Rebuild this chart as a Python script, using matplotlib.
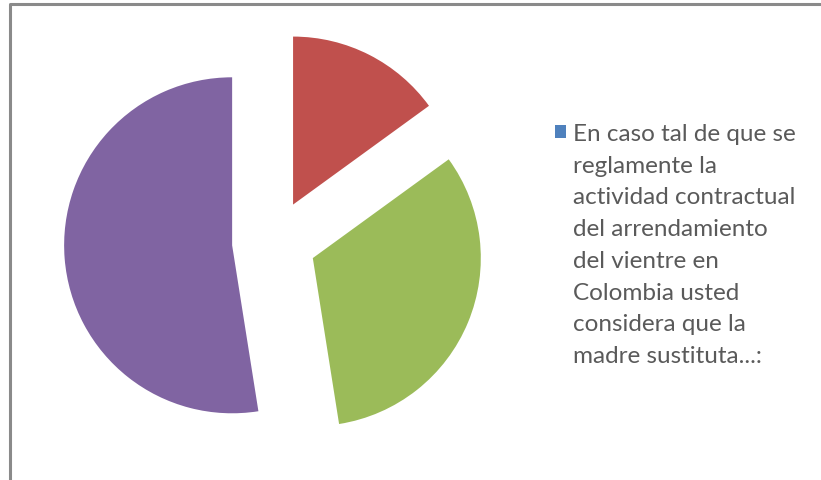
import matplotlib
matplotlib.use("Agg")
import matplotlib.pyplot as plt
from matplotlib.patches import Rectangle

# Data
categories = ["Serie azul", "Opción 1", "Opción 2", "Opción 3"]
values = [0, 6, 13, 21]
colors = ["#4F81BD", "#C0504D", "#9BBB59", "#8064A2"]
legend_lines = [
    "En caso tal de que se",
    "reglamente la",
    "actividad contractual",
    "del arrendamiento",
    "del vientre en",
    "Colombia usted",
    "considera que la",
    "madre sustituta...:",
]

W, H = 821, 480
fig = plt.figure(figsize=(W / 100, H / 100), dpi=100)
fig.patch.set_facecolor("white")

ax = fig.add_axes([0, 0, 1, 1])
ax.set_xlim(0, W)
ax.set_ylim(0, H)
ax.axis("off")

R = 168
explode_frac = 0.25
ax.pie(values, colors=colors, startangle=90, counterclock=False,
       explode=[explode_frac * R] * len(values), center=(274, H - 242), radius=R,
       wedgeprops=dict(linewidth=0), frame=False)
ax.set_xlim(0, W)
ax.set_ylim(0, H)
ax.set_aspect("equal")

# chart border
ax.plot([10, 10, W + 5], [-5, H - 4, H - 4], color="#8a8a8a", lw=2.2,
        solid_capstyle="butt", clip_on=False)

# legend
ax.add_patch(Rectangle((555, H - 138), 11, 13, color=colors[0], lw=0))
for i, line in enumerate(legend_lines):
    ax.text(573, H - (141 + 31.7 * i), line, fontsize=17.5, family="Lato",
            color="#5a5a5a", va="baseline", ha="left")

fig.savefig("out.png", dpi=100, facecolor="white")
